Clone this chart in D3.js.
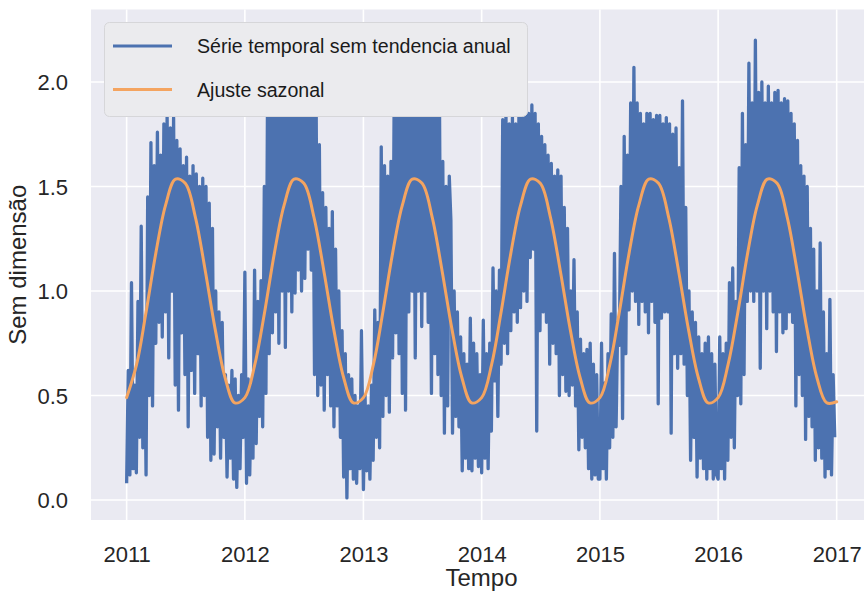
<!DOCTYPE html>
<html><head><meta charset="utf-8">
<script src="https://cdn.jsdelivr.net/npm/d3@7"></script>
<style>body{margin:0;background:#fff}svg{display:block}</style>
</head><body>
<svg id="c" width="864" height="591"></svg>
<script>
// ---------------- DATA ----------------
const yearTicks = [2011, 2012, 2013, 2014, 2015, 2016, 2017];
const yTicks = [0, 0.5, 1.0, 1.5, 2.0];
const yTickLabels = ["0.0", "0.5", "1.0", "1.5", "2.0"];
const seriesStepDays = 5;
const legendLabels = ["Série temporal sem tendencia anual", "Ajuste sazonal"];
const xLabel = "Tempo";
const yLabel = "Sem dimensão";

// detrended series, one value every 5 days from Jan 1 of each year
const s2011 = [
0.08,0.62,0.12,1.04,0.15,0.55, 0.13,0.95,0.30,1.31,0.25,0.85,
0.12,1.45,0.50,1.71,0.45,1.60, 0.75,1.76,0.85,1.65,0.78,1.80,
0.90,1.84,0.68,1.78,1.00,1.83, 0.55,1.72,0.43,1.68,0.80,1.60,
0.60,1.64,0.35,1.55,0.62,1.60, 0.51,1.56,0.70,1.50,0.45,1.54,
0.50,1.50,0.30,1.42,0.19,1.30, 0.22,1.00,0.35,0.90,0.20,0.85,
0.30,0.60,0.11,0.55,0.20,0.62, 0.10,0.58,0.06,0.50,0.15,0.60, 0.30];
const s2012 = [
1.09,0.08,0.58,0.12,0.55,0.20, 1.10,0.27,0.95,0.40,1.05,0.35,
1.50,0.51,1.95,0.70,1.90,0.80, 2.00,0.90,1.95,0.75,1.90,1.00,
1.95,0.73,2.00,1.00,1.90,0.90, 1.95,0.99,2.05,1.10,1.90,1.00,
1.95,1.06,1.90,1.20,2.00,1.10, 1.85,0.60,1.90,0.50,1.70,0.55,
1.47,0.43,1.40,0.60,1.30,0.45, 1.38,0.35,1.20,0.45,1.00,0.30,
0.81,0.11,0.70,0.01,0.60,0.15, 0.58,0.10,0.50,0.08,0.45,0.15, 0.81];
const s2013 = [
0.05,0.50,0.14,0.45,0.10,0.55, 0.19,0.91,0.30,0.85,0.25,1.69,
0.40,1.60,0.50,1.55,0.42,1.62, 0.68,1.95,0.80,2.00,0.70,1.90,
0.51,1.95,0.43,2.00,0.90,1.95, 1.00,2.00,0.68,1.95,1.00,2.00,
0.83,1.95,1.00,2.00,0.85,1.90, 0.51,1.95,0.70,1.90,0.60,1.85,
0.50,1.62,0.32,1.50,0.45,1.55, 1.34,0.32,1.00,0.40,0.90,0.35,
0.78,0.14,0.70,0.20,0.65,0.15, 0.87,0.14,0.75,0.20,0.70,0.16, 0.60];
const s2014 = [
0.13,0.86,0.20,0.70,0.15,0.75, 0.33,1.11,0.57,1.00,0.40,1.10,
0.65,1.82,0.75,1.85,0.70,1.80, 0.81,1.83,0.90,1.80,0.85,1.84,
0.92,1.83,1.00,1.96,0.95,1.85, 1.16,1.89,1.20,1.85,0.33,1.80,
0.81,1.74,0.90,1.70,0.85,1.65, 0.65,1.61,0.75,1.55,0.70,1.58,
0.50,1.55,0.60,1.40,0.52,1.30, 0.50,1.00,0.55,1.15,0.45,0.90,
0.24,0.77,0.30,0.70,0.25,0.72, 0.15,0.75,0.10,0.65,0.12,0.60, 0.10];
const s2015 = [
0.10,0.75,0.15,0.56,0.10,0.70, 0.25,0.89,0.30,1.18,0.35,0.85,
0.74,1.50,0.39,1.74,0.70,1.65, 0.91,1.90,1.00,2.07,0.95,1.90,
0.84,1.85,0.95,1.80,0.90,1.85, 0.80,1.85,0.95,1.82,0.85,1.84,
0.46,1.84,0.87,1.80,0.90,1.83, 0.90,1.80,0.32,1.75,0.70,1.78,
0.63,1.59,0.70,1.91,0.65,1.40, 0.50,1.00,0.19,0.90,0.30,0.85,
0.11,0.78,0.20,0.70,0.15,0.75, 0.10,0.78,0.15,0.70,0.10,0.65, 0.12];
const s2016 = [
0.10,0.78,0.15,0.70,0.10,0.75, 0.19,1.04,0.30,1.11,0.25,0.95,
0.50,1.59,0.46,1.85,0.60,1.70, 0.95,2.09,1.00,1.90,0.95,2.20,
1.00,1.95,0.63,2.00,1.00,1.90, 0.82,1.98,1.00,1.90,0.90,1.95,
0.71,1.96,0.90,1.90,0.80,1.92, 0.82,1.91,0.90,1.85,0.85,1.80,
0.45,1.72,0.60,1.60,0.50,1.55, 0.29,1.50,0.40,1.30,0.35,1.20,
0.19,1.00,0.25,1.23,0.20,0.90, 0.11,0.70,0.15,0.96,0.12,0.60, 0.30];
const seriesByYear = [[2011, s2011], [2012, s2012], [2013, s2013], [2014, s2014], [2015, s2015], [2016, s2016]];

// seasonal fit, value on the 1st of every month, Jan 2011 .. Jan 2017
const fitValues = [
0.49,0.65,0.89,1.18,1.41,1.535,1.515,1.355,1.095,0.82,0.585,0.465,
0.49,0.65,0.89,1.18,1.41,1.535,1.515,1.355,1.095,0.82,0.585,0.465,
0.49,0.65,0.89,1.18,1.41,1.535,1.515,1.355,1.095,0.82,0.585,0.465,
0.49,0.65,0.89,1.18,1.41,1.535,1.515,1.355,1.095,0.82,0.585,0.465,
0.49,0.65,0.89,1.18,1.41,1.535,1.515,1.355,1.095,0.82,0.585,0.465,
0.49,0.65,0.89,1.18,1.41,1.535,1.515,1.355,1.095,0.82,0.585,0.465,
0.47];

// ---------------- BUILD ----------------
(function () {
const DAY = 86400000;
const series = [];
seriesByYear.forEach(([yr, arr]) => {
  arr.forEach((v, i) => series.push({ t: new Date(Date.UTC(yr, 0, 1) + i * seriesStepDays * DAY), v }));
});
const fit = fitValues.map((v, i) => ({ t: new Date(Date.UTC(2011, i, 1)), v }));

const pL = 91, pR = 872, pT = 9.5, pB = 520;
const svg = d3.select("#c");
const x = d3.scaleUtc()
  .domain([new Date(Date.UTC(2010, 8, 13)), new Date(Date.UTC(2017, 3, 20))])
  .range([pL, pR]);
const y = d3.scaleLinear().domain([-0.0957, 2.3469]).range([pB, pT]);

const font = "'Liberation Sans', Arial, sans-serif";
const txt = "#262626";

svg.append("rect").attr("x", pL).attr("y", pT)
  .attr("width", pR - pL).attr("height", pB - pT).attr("fill", "#EAEAF2");

svg.append("defs").append("clipPath").attr("id", "clip")
  .append("rect").attr("x", pL).attr("y", pT)
  .attr("width", pR - pL).attr("height", pB - pT);

// grid
const g = svg.append("g");
g.selectAll(".gx").data(yearTicks).join("line")
  .attr("x1", d => x(new Date(Date.UTC(d, 0, 1)))).attr("x2", d => x(new Date(Date.UTC(d, 0, 1))))
  .attr("y1", pT).attr("y2", pB).attr("stroke", "#fff").attr("stroke-width", 1.6);
g.selectAll(".gy").data(yTicks).join("line")
  .attr("x1", pL).attr("x2", pR).attr("y1", d => y(d)).attr("y2", d => y(d))
  .attr("stroke", "#fff").attr("stroke-width", 1.6);

// series
const plot = svg.append("g").attr("clip-path", "url(#clip)");
plot.append("path").datum(series)
  .attr("d", d3.line().x(d => x(d.t)).y(d => y(d.v)))
  .attr("fill", "none").attr("stroke", "#4C72B0").attr("stroke-width", 3.3)
  .attr("stroke-linejoin", "round");
plot.append("path").datum(fit)
  .attr("d", d3.line().x(d => x(d.t)).y(d => y(d.v)).curve(d3.curveCatmullRom))
  .attr("fill", "none").attr("stroke", "#F4A460").attr("stroke-width", 3)
  .attr("stroke-linecap", "round");

// axes
const xAxis = svg.append("g").attr("transform", `translate(0,${pB})`)
  .call(d3.axisBottom(x).tickValues(yearTicks.map(d => new Date(Date.UTC(d, 0, 1))))
    .tickFormat(d3.utcFormat("%Y")).tickSize(0).tickPadding(0));
xAxis.select(".domain").remove();
xAxis.selectAll("text").attr("y", 41.5).attr("dy", null)
  .attr("font-family", font).attr("font-size", 22).attr("fill", txt);

const yAxis = svg.append("g").attr("transform", `translate(${pL},0)`)
  .call(d3.axisLeft(y).tickValues(yTicks).tickFormat((d, i) => yTickLabels[i]).tickSize(0).tickPadding(23));
yAxis.select(".domain").remove();
yAxis.selectAll("text").attr("dy", "0.36em")
  .attr("font-family", font).attr("font-size", 22).attr("fill", txt);

svg.append("text").attr("x", (pL + pR) / 2).attr("y", 586).attr("text-anchor", "middle")
  .attr("font-family", font).attr("font-size", 24).attr("fill", txt).text(xLabel);
svg.append("text").attr("transform", `translate(26,${(pT + pB) / 2}) rotate(-90)`)
  .attr("text-anchor", "middle")
  .attr("font-family", font).attr("font-size", 24).attr("fill", txt).text(yLabel);

// legend
const lg = svg.append("g");
lg.append("rect").attr("x", 104.5).attr("y", 22.5).attr("width", 423).attr("height", 94).attr("rx", 5)
  .attr("fill", "#EBEBEE").attr("stroke", "#D6D6D9").attr("stroke-width", 1);
const legendColors = ["#4C72B0", "#F4A460"];
const rowsY = [46, 89.5];
legendLabels.forEach((lab, i) => {
  lg.append("line").attr("x1", 113).attr("x2", 172).attr("y1", rowsY[i]).attr("y2", rowsY[i])
    .attr("stroke", legendColors[i]).attr("stroke-width", 2.8);
  lg.append("text").attr("x", 197).attr("y", rowsY[i]).attr("dy", "0.36em")
    .attr("font-family", font).attr("font-size", 19.6).attr("fill", "#1a1a1a").text(lab);
});
})();
</script>
</body></html>
